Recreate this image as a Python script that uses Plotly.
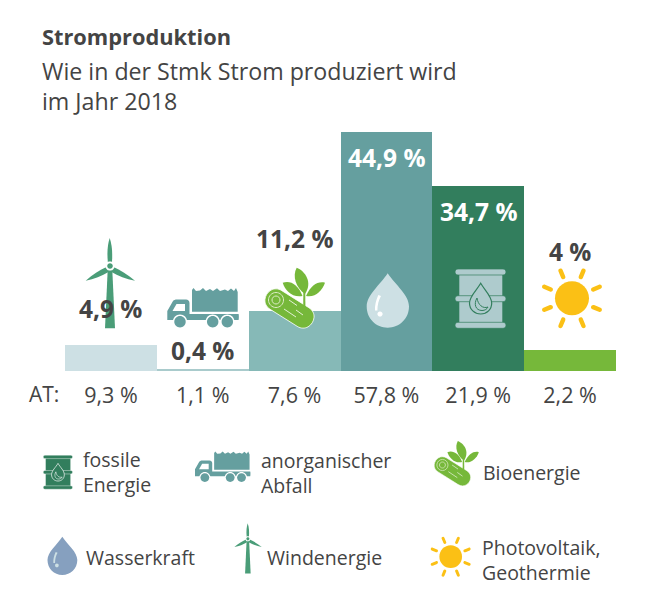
import re
import math
import plotly.graph_objects as go

W, H = 648, 600
FONT = "Open Sans, sans-serif"
TXT = "#444444"

# data
categories = ["Windenergie", "anorganischer Abfall", "Bioenergie", "Wasserkraft", "fossile Energie", "Photovoltaik, Geothermie"]
stmk_values = [4.9, 0.4, 11.2, 44.9, 34.7, 4]
at_values = [9.3, 1.1, 7.6, 57.8, 21.9, 2.2]
bar_colors = ["#CDE0E4", "#A9CBCC", "#86B9B7", "#659F9F", "#327E5D", "#76B83A"]
label_colors = [TXT, TXT, TXT, "#FFFFFF", "#FFFFFF", TXT]
label_px = [308, 350, 238, 158, 212, 251]


def fmt(v):
    return f"{v:g}".replace(".", ",") + " %"


def px(x):
    return x / W


def py(y):
    return 1 - y / H


##ICON HELPERS (drawn in picture pixels, then moved and scaled)
def circle(cx, cy, r):
    k = 0.5523 * r
    return (f"M {cx-r},{cy} C {cx-r},{cy-k} {cx-k},{cy-r} {cx},{cy-r} "
            f"C {cx+k},{cy-r} {cx+r},{cy-k} {cx+r},{cy} "
            f"C {cx+r},{cy+k} {cx+k},{cy+r} {cx},{cy+r} "
            f"C {cx-k},{cy+r} {cx-r},{cy+k} {cx-r},{cy} Z")


def capsule(x0, y0, x1, y1, w):
    d = math.hypot(x1 - x0, y1 - y0)
    ux, uy = (x1 - x0) / d, (y1 - y0) / d
    nx, ny = -uy * w / 2, ux * w / 2
    ex, ey = ux * w * 0.66, uy * w * 0.66
    return (f"M {x0+nx},{y0+ny} L {x1+nx},{y1+ny} "
            f"C {x1+nx+ex},{y1+ny+ey} {x1-nx+ex},{y1-ny+ey} {x1-nx},{y1-ny} "
            f"L {x0-nx},{y0-ny} "
            f"C {x0-nx-ex},{y0-ny-ey} {x0+nx-ex},{y0+ny-ey} {x0+nx},{y0+ny} Z")


def place(parts, origin, target, s):
    out = []
    for path, fill, stroke, sw in parts:
        def repl(m):
            x = target[0] + (float(m.group(1)) - origin[0]) * s
            y = target[1] + (float(m.group(2)) - origin[1]) * s
            return f"{px(x):.5f},{py(y):.5f}"
        p = re.sub(r"(-?[\d.]+),(-?[\d.]+)", repl, path)
        out.append(dict(type="path", xref="paper", yref="paper", path=p,
                        fillcolor=fill if fill else "rgba(0,0,0,0)",
                        line=dict(color=stroke if stroke else "rgba(0,0,0,0)", width=sw * s if stroke else 0),
                        layer="above"))
    return out


def turbine():
    c = "#4A9D78"
    blade = "M 107.8,262 C 107,252 107.5,245 109.7,238 C 112,245 112.6,252 112,262 Z"
    left = "M 106.5,267 C 100,270 92,275 85.7,280.7 C 94,279 102,276 108.5,272 Z"
    right = "M 113.5,267 C 120,270 128,275 135,280.7 C 126,279 118,276 111.5,272 Z"
    tower = "M 107.7,270 L 112.3,270 L 115,328.3 L 105,328.3 Z"
    return [(blade, c, None, 0), (left, c, None, 0), (right, c, None, 0), (tower, c, None, 0),
            (circle(110, 266, 4.6), "#FFFFFF", None, 0), (circle(110, 266, 2.8), c, None, 0)]


def truck():
    c = "#659F9F"
    load = ("M 192,311.7 L 192,290 L 193.5,288 L 196,291 L 200,290.5 L 203,288 L 206,291 L 210,289 L 213,291 "
            "L 217,288.3 L 220,291 L 225,289.5 L 228,291 L 231,288.5 L 234,291 L 236,288 L 237.7,292 L 237.7,311.7 Z")
    cab = ("M 167.3,320 L 167.3,311 L 173,301 C 174,300 175,299.5 177,299.5 L 186,299.5 C 188,299.5 189.5,301 189.5,303 "
           "L 189.5,314 L 238.5,314 C 239,314 239,320 238.5,320 Z")
    window = "M 172.5,311 L 176.5,304 L 185,304 L 185,311 Z"
    w = "#FFFFFF"
    parts = [(load, c, None, 0), (cab, c, None, 0), (window, w, None, 0)]
    for cx in [180, 212.7, 227.3]:
        parts.append((circle(cx, 321.7, 7.2), w, None, 0))
        parts.append((circle(cx, 321.7, 5.7), c, None, 0))
    return parts


def log_plant():
    g = "#76B83A"
    w = "#FFFFFF"
    center = "M 305,294 C 296,288 292,276 296.7,267.7 C 305,271 313,282 305,294 Z"
    lleaf = "M 302.5,296 C 298,284 290,280 282.7,282.7 C 285,290 292,298 302.5,296 Z"
    rleaf = "M 306,296 C 311,285 318,281 325,282.7 C 322,291 315,298 306,296 Z"
    stem = "M 303.4,285 L 305.2,285 L 305.4,308 L 303.2,308 Z"
    return [(center, g, None, 0), (lleaf, g, None, 0), (rleaf, g, None, 0),
            (capsule(276, 300, 303, 317, 22), g, "#FFFFFF", 0.8),
            (stem, g, None, 0),
            (circle(276, 300, 7.5), g, "#DCEBC6", 1),
            (circle(276, 300, 4), g, "#DCEBC6", 1),
            ("M 289,300 L 297,305.5", None, w, 0.8),
            ("M 284,309 L 296,317", None, w, 0.8),
            ("M 296,310 L 303,315", None, w, 0.8)]


DROP = ("M 387.7,273.3 C 380,285 366.7,295 366.7,306.5 C 366.7,318.5 376,327.7 387.7,327.7 "
        "C 399.5,327.7 409,318.5 409,306.5 C 409,295 395.5,285 387.7,273.3 Z")


def drop(fill, hi):
    shine = "M 378.3,295 C 376,300 374.6,306 375,310.5 L 377.4,310.5 C 377.4,305 378.6,300 381,296 Z"
    return [(DROP, fill, None, 0), (shine, hi, None, 0), (circle(380, 314, 2.6), hi, None, 0)]


def barrel(body, accent):
    parts = [("M 459.3,272 L 502.3,272 L 502.3,325 L 459.3,325 Z", body, None, 0)]
    for y in [272, 298.7, 325.3]:
        parts.append((capsule(458, y, 503, y, 6), body, accent, 0.7))
    parts.append(("M 480.7,283.3 C 477,290 469.5,296 469.5,303 C 469.5,309.5 474.5,314 480.7,314 "
                  "C 487,314 491.7,309.5 491.7,303 C 491.7,296 484.5,290 480.7,283.3 Z", body, accent, 1.2))
    parts.append(("M 477,298 C 473.5,304 475.5,310.5 482,310.5 C 485,310.5 487,309 488,307 "
                  "C 483,309 478,305 477,298 Z", None, accent, 1))
    return parts


def sun():
    c = "#FBC015"
    parts = [(circle(572, 298.3, 17), c, None, 0)]
    for i in range(8):
        a = math.radians(22.5 + 45 * i)
        parts.append((capsule(572 + 23 * math.cos(a), 298.3 + 23 * math.sin(a),
                              572 + 30 * math.cos(a), 298.3 + 30 * math.sin(a), 4.4), c, None, 0))
    return parts


##ICONS
shapes = []
shapes += place(turbine(), (110, 238), (110, 238), 1)
shapes += place(truck(), (0, 0), (0, 0), 1)
shapes += place(log_plant(), (0, 0), (0, 0), 1)
shapes += place(drop("#CDE0E4", "#FFFFFF"), (0, 0), (0, 0), 1)
shapes += place(barrel("#AECBCD", "#327E5D"), (0, 0), (0, 0), 1)
shapes += place(sun(), (0, 0), (0, 0), 1)

# legend icons
shapes += place(barrel("#327E5D", "#FFFFFF"), (480.7, 298.3), (58, 472), 0.575)
shapes += place(truck(), (167.3, 288.3), (195, 451.7), 0.775)
shapes += place(log_plant(), (266, 267.7), (435, 441), 0.743)
shapes += place(drop("#86A0BF", "#CDE0E4"), (387.7, 273.3), (62.3, 536.7), 0.705)
shapes += place(turbine(), (109.7, 238), (247.7, 523.3), 0.556)
shapes += place(sun(), (572, 298.3), (450.7, 556.7), 0.667)

##BARS
fig = go.Figure()
fig.add_trace(go.Bar(x=categories, y=stmk_values, width=1, marker=dict(color=bar_colors, line_width=0),
                     hoverinfo="skip"))

annotations = []


def text(x, y, s, size, color=TXT, bold=False):
    annotations.append(dict(xref="paper", yref="paper", x=px(x), y=py(y), text=f"<b>{s}</b>" if bold else s,
                            showarrow=False, xanchor="left", yanchor="middle", align="left",
                            font=dict(size=size, color=color), borderpad=0, borderwidth=0))


# value labels over the bars
for cat, v, col, ly in zip(categories, stmk_values, label_colors, label_px):
    annotations.append(dict(xref="x", yref="paper", x=cat, y=py(ly), text=f"<b>{fmt(v)}</b>", showarrow=False,
                            yanchor="middle", font=dict(size=24.5, color=col)))

text(42, 37, "Stromproduktion", 21.8, bold=True)
text(42, 86, "Wie in der Stmk Strom produziert wird<br>im Jahr 2018", 23.2)
text(29, 394, "AT:", 21)

text(83, 472, "fossile<br>Energie", 19.5)
text(261, 472.5, "anorganischer<br>Abfall", 19.5)
text(483, 472, "Bioenergie", 19.5)
text(86, 557, "Wasserkraft", 19.5)
text(267, 557, "Windenergie", 19.5)
text(482, 560, "Photovoltaik,<br>Geothermie", 19.5)

##LAYOUT
fig.update_layout(
    width=W,
    height=H,
    autosize=False,
    margin=dict(l=0, r=0, t=0, b=0),
    paper_bgcolor="white",
    plot_bgcolor="white",
    showlegend=False,
    bargap=0,
    font=dict(family=FONT, color=TXT),
    shapes=shapes,
    annotations=annotations,
)
fig.update_xaxes(domain=[px(65), px(616)], showgrid=False, zeroline=False, showline=False, ticks="",
                 tickmode="array", tickvals=categories, ticktext=[fmt(v) for v in at_values],
                 tickfont=dict(size=21.5, color=TXT), ticklabelstandoff=9, automargin=False, fixedrange=True)
fig.update_yaxes(domain=[py(371), py(132)], range=[0, 44.9], visible=False, fixedrange=True)

# browser default body margin would push the chart 8px
fig.write_html("out.html", post_script="document.body.style.margin='0';", config=dict(displayModeBar=False))
